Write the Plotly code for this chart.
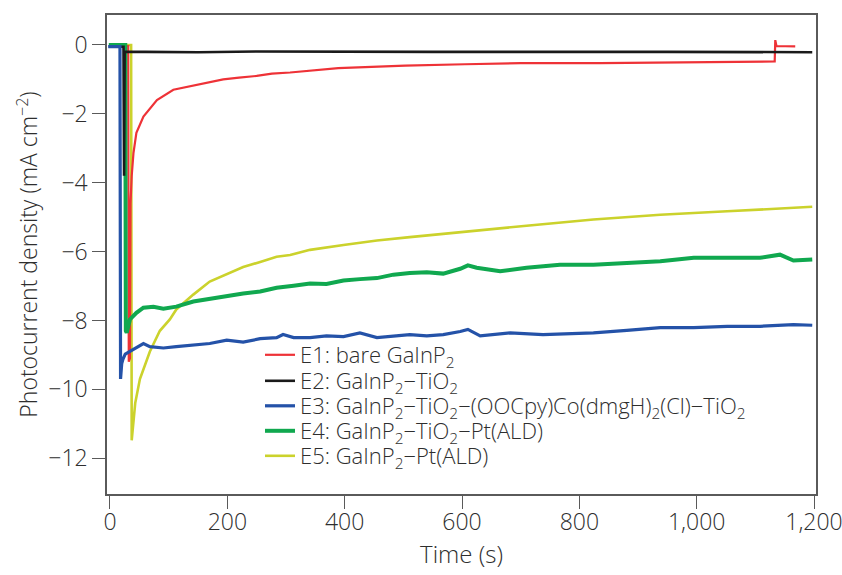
import plotly.graph_objects as go

# Photocurrent transients (mA cm^-2) versus time (s)
t_e1 = [-2, 31, 32, 34, 35, 37, 40, 45, 57, 80, 108, 137, 160, 193, 220, 250, 276, 307,
        389, 450, 503, 605, 700, 835, 1006, 1125, 1133, 1134, 1136, 1168]
j_e1 = [-0.03, -0.03, -9.2, -9.1, -4.6, -3.8, -3.14, -2.55, -2.08, -1.6, -1.3, -1.2, -1.1,
        -1.0, -0.95, -0.9, -0.83, -0.8, -0.67, -0.63, -0.6, -0.56, -0.53, -0.53, -0.5,
        -0.49, -0.48, 0.14, -0.03, -0.04]

t_e2 = [-2, 23, 24, 25, 60, 150, 250, 350, 450, 550, 650, 750, 850, 950, 1050, 1150, 1197]
j_e2 = [-0.05, -0.05, -3.8, -0.2, -0.2, -0.21, -0.19, -0.2, -0.21, -0.2, -0.2, -0.21,
        -0.2, -0.2, -0.21, -0.2, -0.21]

t_e3 = [-3, 17, 18, 20, 22, 26, 34, 45, 57, 68, 91, 113, 142, 170, 199, 227, 256, 284,
        295, 313, 341, 369, 398, 426, 455, 483, 511, 540, 568, 597, 610, 631, 682, 738,
        824, 881, 938, 995, 1052, 1108, 1165, 1197]
j_e3 = [-0.05, -0.05, -9.7, -9.25, -9.13, -8.98, -8.9, -8.8, -8.67, -8.76, -8.8, -8.76,
        -8.72, -8.67, -8.57, -8.63, -8.53, -8.5, -8.41, -8.5, -8.5, -8.45, -8.47, -8.36,
        -8.5, -8.45, -8.41, -8.45, -8.41, -8.32, -8.26, -8.45, -8.36, -8.41, -8.36, -8.29,
        -8.21, -8.21, -8.17, -8.17, -8.12, -8.14]

t_e4 = [-2, 26, 27, 28.5, 34, 45, 57, 74, 91, 113, 142, 170, 199, 227, 256, 284, 313,
        341, 369, 398, 426, 455, 483, 511, 540, 568, 597, 610, 625, 665, 710, 767, 824,
        881, 938, 995, 1052, 1108, 1142, 1165, 1197]
j_e4 = [0.0, 0.0, -8.3, -8.36, -7.97, -7.78, -7.63, -7.6, -7.66, -7.6, -7.45, -7.37,
        -7.31, -7.22, -7.16, -7.05, -6.99, -6.93, -6.94, -6.84, -6.8, -6.77, -6.67, -6.62,
        -6.6, -6.64, -6.5, -6.4, -6.47, -6.57, -6.47, -6.38, -6.38, -6.33, -6.28, -6.18,
        -6.18, -6.18, -6.09, -6.26, -6.23]

t_e5 = [-1, 36, 37, 43, 51, 62.5, 68, 85, 102, 113, 142, 170, 205, 227, 256, 284, 307,
        341, 398, 455, 511, 568, 597, 665, 710, 824, 938, 1052, 1197]
j_e5 = [0.0, 0.0, -11.48, -10.4, -9.7, -9.13, -8.9, -8.3, -7.97, -7.68, -7.25, -6.87,
        -6.6, -6.45, -6.3, -6.15, -6.1, -5.95, -5.81, -5.68, -5.58, -5.48, -5.43, -5.33,
        -5.25, -5.07, -4.93, -4.83, -4.7]

names = [
    "E1: bare GaInP<sub>2</sub>",
    "E2: GaInP<sub>2</sub>−TiO<sub>2</sub>",
    "E3: GaInP<sub>2</sub>−TiO<sub>2</sub>−(OOCpy)Co(dmgH)<sub>2</sub>(Cl)−TiO<sub>2</sub>",
    "E4: GaInP<sub>2</sub>−TiO<sub>2</sub>−Pt(ALD)",
    "E5: GaInP<sub>2</sub>−Pt(ALD)",
]
colors = ["#ee3237", "#1a1a1a", "#2452a8", "#10a84f", "#cbd22c"]
widths = [2.2, 2.6, 3.2, 4.0, 2.6]
series = [(t_e1, j_e1), (t_e2, j_e2), (t_e3, j_e3), (t_e4, j_e4), (t_e5, j_e5)]
legend_ids = ["legend", "legend2", "legend3", "legend4", "legend5"]

# plot-area geometry in pixels, used to place the legend rows
W, H = 842, 575
M_L, M_R, M_T, M_B = 107, 26, 15, 81
plot_w, plot_h = W - M_L - M_R, H - M_T - M_B
row_px = [355, 381, 406, 431, 456]      # legend row centres (px from top)
legend_left_px = 260

font_family = "'Open Sans', Lato, sans-serif"
txt_color = "#2e2e2e"

fig = go.Figure()
# draw order: yellow underneath, then the rest so the early drops overlap
for i in [4, 0, 3, 1, 2]:
    t, j = series[i]
    fig.add_trace(go.Scatter(
        x=t, y=j, mode="lines", name=names[i], legend=legend_ids[i],
        line=dict(color=colors[i], width=widths[i]),
    ))

legend_layout = {}
for i, lid in enumerate(legend_ids):
    legend_layout[lid] = dict(
        x=(legend_left_px - M_L) / plot_w,
        y=(H - M_B - row_px[i]) / plot_h,
        xanchor="left", yanchor="middle",
        bgcolor="rgba(0,0,0,0)", borderwidth=0,
        font=dict(family=font_family, size=22, color=txt_color, weight=300),
        itemwidth=30,
    )

axis_style = dict(
    showline=True, linecolor="#5a5a5a", linewidth=1.5, mirror=True,
    ticks="outside", ticklen=13, tickwidth=1.3, tickcolor="#5a5a5a",
    showgrid=False, zeroline=False, automargin=False,
    tickfont=dict(family=font_family, size=23, color=txt_color, weight=300),
)

fig.update_layout(
    width=W, height=H,
    margin=dict(l=M_L, r=M_R, t=M_T, b=M_B, autoexpand=False),
    paper_bgcolor="white", plot_bgcolor="white",
    font=dict(family=font_family, size=23, color=txt_color, weight=300),
    xaxis=dict(
        range=[-5.1, 1203.4], tickvals=[0, 200, 400, 600, 800, 1000, 1200],
        tickformat=",d", ticklabelstandoff=-6, ticklabeloverflow="allow",
        title=dict(text="Time (s)", standoff=0,
                   font=dict(family=font_family, size=24, color=txt_color, weight=300)),
        **axis_style,
    ),
    yaxis=dict(
        range=[-13.04, 0.87], tickvals=[0, -2, -4, -6, -8, -10, -12],
        title=dict(text="Photocurrent density (mA cm<sup>−2</sup>)", standoff=4,
                   font=dict(family=font_family, size=23, color=txt_color, weight=300)),
        **axis_style,
    ),
    showlegend=True,
    **legend_layout,
)

fig.write_html("out.html")
